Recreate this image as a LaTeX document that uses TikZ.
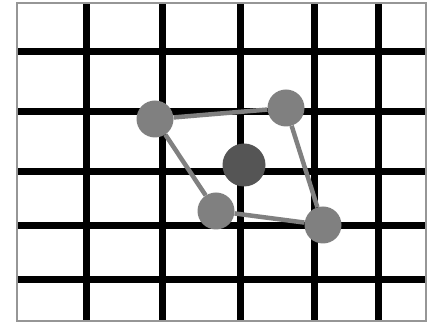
\documentclass[tikz,border=0pt]{standalone}
\usepackage{xcolor}
\usepackage{tikz}
\definecolor{framegray}{RGB}{150,150,150}
\definecolor{atomgray}{RGB}{128,128,128}
\definecolor{coregray}{RGB}{85,85,85}

\begin{document}
\begin{tikzpicture}[x=1pt, y=-1pt,
    grid/.style={line width=7pt,black},
    atom/.style={circle,fill=atomgray,minimum size=37pt,inner sep=0pt},
    bond/.style={line width=4.5pt,draw=atomgray}]

    \useasboundingbox (0,0) rectangle (432,323);
    \fill[white] (17,3) rectangle (426,321);

    \foreach \x in {86,162,240,314,378}
      \draw[grid] (\x,4) -- (\x,320);
    \foreach \y in {52,112,172,226,280}
      \draw[grid] (18,\y) -- (425,\y);

    \draw[framegray,line width=2.5pt] (17,3) rectangle (426,321);

    \node[atom] (tl) at (155,119) {};
    \node[atom] (tr) at (286,108) {};
    \node[atom] (bl) at (216,211) {};
    \node[atom] (br) at (323,225) {};
    \node[atom,fill=coregray,minimum size=43pt] (mid) at (244,165) {};

    \draw[bond] (tl) -- (tr);
    \draw[bond] (tr) -- (br);
    \draw[bond] (br) -- (bl);
    \draw[bond] (bl) -- (tl);
  \end{tikzpicture}
\end{document}
